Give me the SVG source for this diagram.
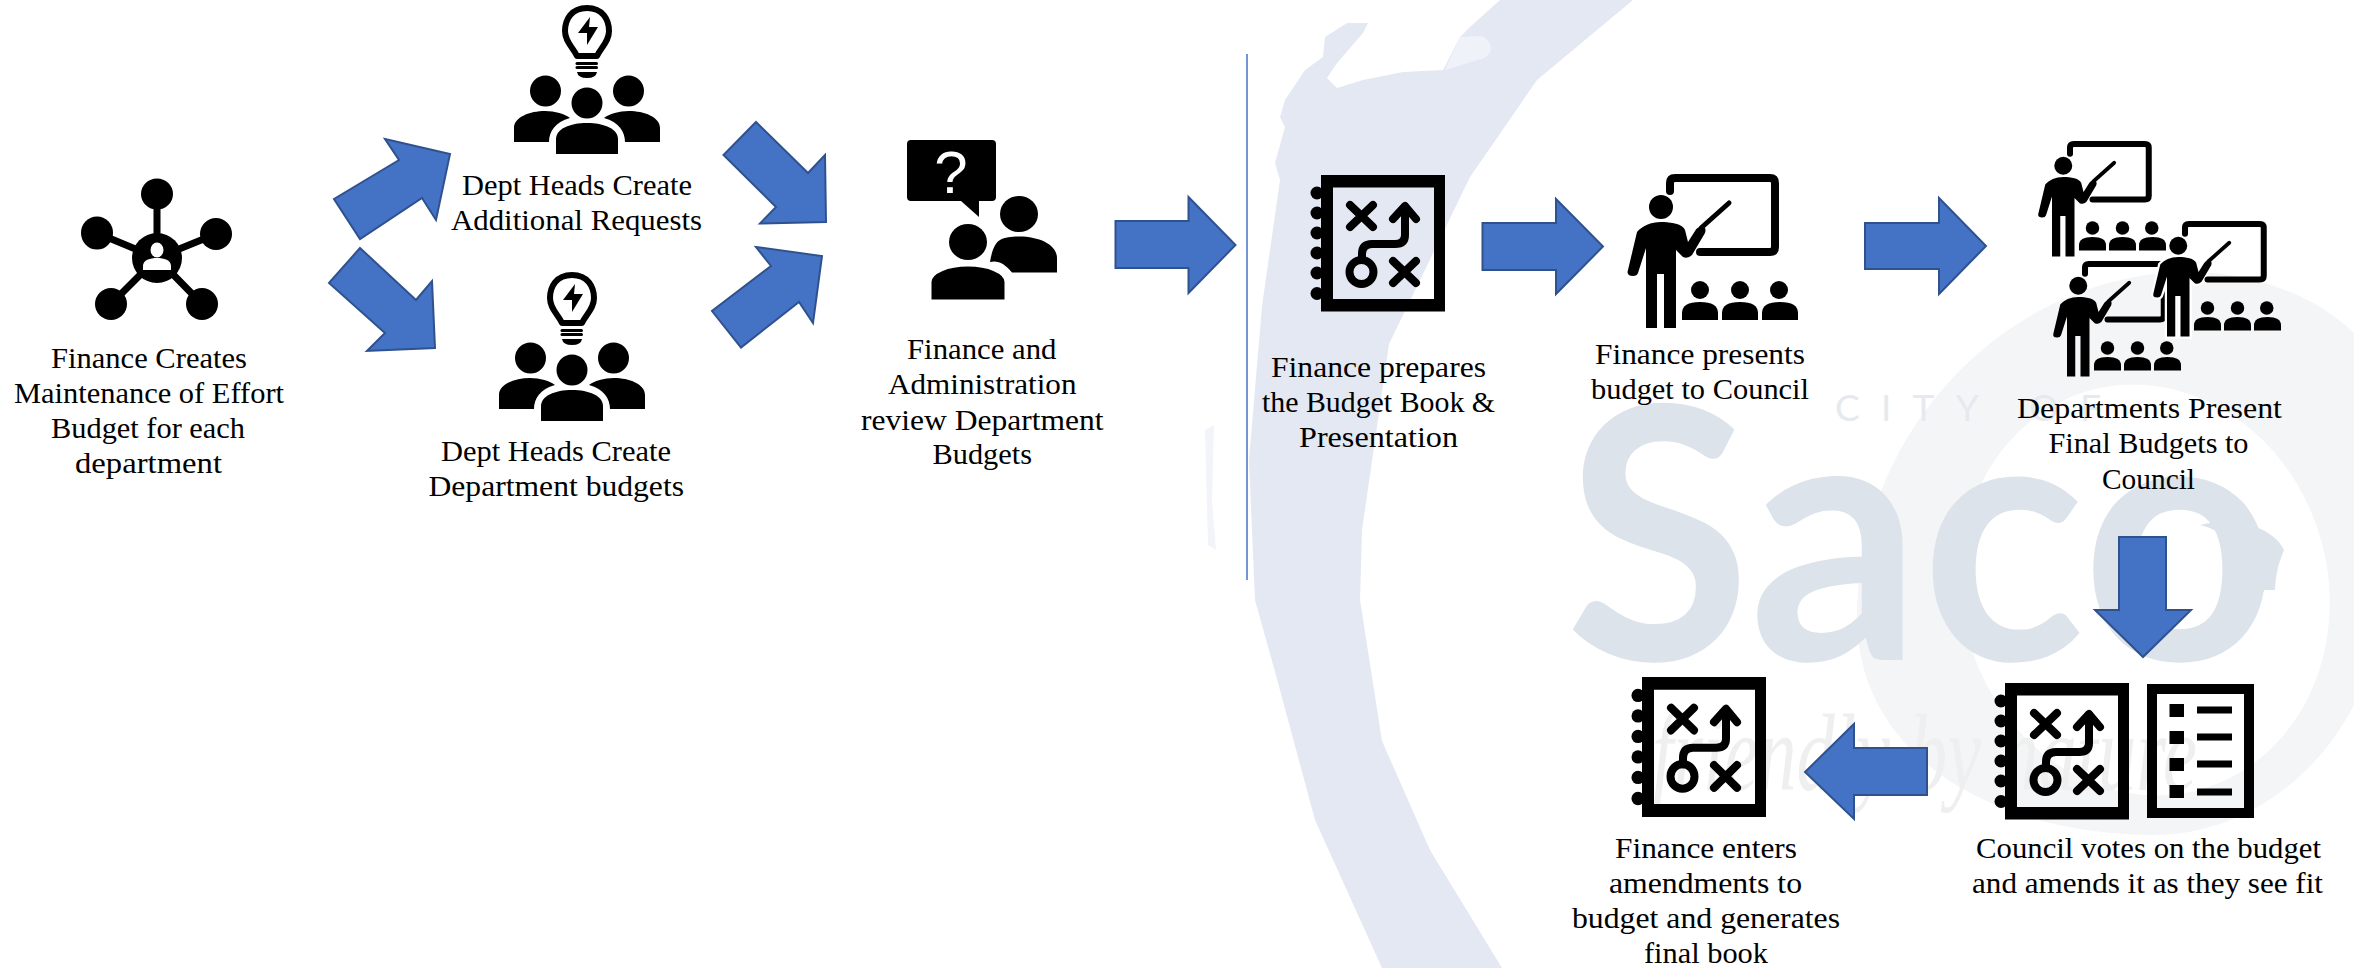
<svg xmlns="http://www.w3.org/2000/svg" width="2354" height="968" viewBox="0 0 2354 968">
<style>
.arrow{fill:#4472C4;stroke:#2F528F;stroke-width:2;stroke-linejoin:miter}
.lbl{font-family:"Liberation Serif",Cambria,serif;font-size:30px;fill:#000}
.ink{fill:#000}
.line{fill:none;stroke:#000;stroke-linecap:round;stroke-linejoin:round}
</style>
<defs>
<g id="team">
<path class="line" stroke-width="6" d="M587,8C571,8 565,20 565,31C565,42 573,47 577,56H597C601,47 609,42 609,31C609,20 603,8 587,8Z"/>
<path class="ink" d="M590,17L578,33H587V45L598,27H589Z"/>
<rect class="ink" x="575.500" y="62" width="22.500" height="3" rx="1.500"/>
<rect class="ink" x="575.500" y="66" width="22.500" height="3" rx="1.500"/>
<path class="ink" d="M577,72H597Q596,78 587,78Q578,78 577,72Z"/>
<ellipse class="ink" cx="545.500" cy="91" rx="15.500" ry="15.500"/>
<ellipse class="ink" cx="628.500" cy="91" rx="15.500" ry="15.500"/>
<ellipse class="ink" cx="587" cy="103" rx="15.500" ry="15.500"/>
<path class="ink" d="M514,142V128C514,117 530,111 545,111C555,111 565,114 570,118C555,122 549,132 549,142Z"/>
<path class="ink" d="M660,142V128C660,117 644,111 629,111C619,111 609,114 604,118C619,122 625,132 625,142Z"/>
<path class="ink" d="M556,154V139C556,129 570,123 587,123C604,123 618,129 618,139V154Z"/>
</g>
<g id="book">
<path class="ink" fill-rule="evenodd" d="M0,0H124V136.500H0ZM12,12.500V124H113V12.500Z"/>
<circle class="ink" cx="-4" cy="18" r="6.500"/><circle class="ink" cx="-4" cy="38" r="6.500"/><circle class="ink" cx="-4" cy="58" r="6.500"/><circle class="ink" cx="-4" cy="78" r="6.500"/><circle class="ink" cx="-4" cy="98" r="6.500"/><circle class="ink" cx="-4" cy="118.500" r="6.500"/>
<g class="line" stroke-width="8">
<path d="M29,30L52,52M52,30L29,52"/>
<path d="M72,86L95,108M95,86L72,108"/>
<path d="M84,32V60Q84,69 74,69H51Q41,69 41,79V85"/>
<path d="M72,44L84,31L95,44"/>
<ellipse cx="40.500" cy="97" rx="12" ry="12" fill="none"/>
</g>
</g>
<path id="pbody" d="M-5,48C-15,48 -24,52 -29,58L-38,96Q-40,102 -33,102Q-29,102 -28,99L-20,74V154H-9V100H-2V154H10V76L17,83Q22,85 26,81L39,59Q41,52 35,53Q31,53 29,57L22,68L19,56C17,50 5,48 -5,48Z"/>
<g id="presenter">
<path class="line" stroke-width="8" stroke-linecap="butt" d="M4,17V9Q4,4 9,4H104Q109,4 109,9V73Q109,78 104,78H34"/>
<circle class="ink" cx="-5" cy="33" r="12"/>
<use href="#pbody" fill="#000"/>
<path class="line" stroke-width="5" d="M35,54L63,29"/>
<circle class="ink" cx="34" cy="116" r="9"/><circle class="ink" cx="74" cy="116" r="9"/><circle class="ink" cx="113" cy="116" r="9"/>
<path class="ink" d="M16,146V139Q16,128 34,128Q52,128 52,139V146Z"/>
<path class="ink" d="M56,146V139Q56,128 74,128Q92,128 92,139V146Z"/>
<path class="ink" d="M96,146V139Q96,128 114,128Q132,128 132,139V146Z"/>
</g>
</defs>

<g id="watermark">
<rect width="2354" height="968" fill="#fff"/>
<path fill="#f4f5f6" d="M1857,617C1857,430 2010,272 2190,272C2260,272 2320,300 2354,333V705C2310,790 2230,835 2154,835C2000,835 1857,760 1857,617Z"/>
<ellipse cx="2145" cy="590" rx="183" ry="207" fill="#fff" transform="rotate(-15 2145 590)"/>
<path fill="#e3e8f2" d="M1500,0L1470,27L1460,37L1443,70L1403,72L1363,80L1337,88L1327,78L1337,63L1363,33L1368,23L1347,23L1325,37L1323,57L1305,70L1285,100L1280,117L1285,127L1275,163L1280,180L1262,306L1249,460L1255,600L1277,679L1315,820L1382,968H1502L1430,850L1382,741L1360,600L1362,530L1389,344L1470,177L1537,80L1633,0Z"/>
<path fill="#eff2f8" d="M1460,37L1482,36Q1492,42 1491,50Q1488,58 1478,60L1445,70Z"/>
<path fill="#f2f4f9" d="M1205,430L1214,425L1212,500L1216,550L1208,545Z"/>
<text x="1835" y="421" font-family="Lato,'Open Sans',sans-serif" font-size="37" fill="#e6e9ee" textLength="266">CITY OF</text>
<text x="1565" y="660" font-family="Lato,'Open Sans',sans-serif" font-weight="700" font-size="352" fill="#dde3ea" textLength="712" lengthAdjust="spacingAndGlyphs">Saco</text>
<path fill="#dde3ea" d="M2200,525C2240,515 2275,530 2284,550C2280,560 2276,570 2275,590L2248,590C2245,555 2225,530 2200,525Z"/>
<text x="1652" y="790" font-family="'Liberation Serif',serif" font-style="italic" font-size="110" fill="#efefef" textLength="545" lengthAdjust="spacingAndGlyphs">friendly by nature</text>
</g>

<g id="connectors">
<path class="arrow" d="M385,139L450,154L436,220L422,198L360,239L334,199L399,160Z"/>
<path class="arrow" d="M360,248L416,300L432,281L435,348L367,351L385,333L329,283Z"/>
<path class="arrow" d="M756,122L808,173L825,155L826,222L760,223.500L776,207L723.500,155Z"/>
<path class="arrow" d="M756,247L822,256L813,323L799,302L741,347.500L712,311L771,266Z"/>
<path class="arrow" d="M1115.500,221H1188.500V197L1235.500,245L1188.500,293V268H1115.500Z"/>
<path d="M1247,54V580" stroke="#4472C4" stroke-width="1.500" fill="none"/>
<path class="arrow" d="M1482.500,223H1556V199L1603,246.500L1556,294V270H1482.500Z"/>
<path class="arrow" d="M1865,223H1939V198L1986,246L1939,294V269H1865Z"/>
<path class="arrow" d="M2119,537H2166V610H2191L2143,657L2095,610H2119Z"/>
<path class="arrow" d="M1927,748H1854V724L1805,772L1854,819V795H1927Z"/>
</g>

<g id="node-moe">
<g class="line" stroke-width="7">
<path d="M157,194V258M97,233L157,258L216,234M111,304L157,258L202,304"/>
</g>
<ellipse class="ink" cx="157" cy="194" rx="16" ry="15.500"/>
<ellipse class="ink" cx="97" cy="233" rx="16" ry="16.500"/>
<ellipse class="ink" cx="216" cy="234" rx="16" ry="16"/>
<ellipse class="ink" cx="111" cy="304" rx="16" ry="16"/>
<ellipse class="ink" cx="202" cy="304" rx="16" ry="16"/>
<ellipse class="ink" cx="157" cy="258" rx="25" ry="25"/>
<ellipse cx="157" cy="250" rx="6.500" ry="7.500" fill="#fff"/>
<path d="M143,270V266C143,260 150,258 157,258C164,258 171,260 171,266V270Z" fill="#fff"/>
<text class="lbl" x="51" y="368" textLength="196" lengthAdjust="spacingAndGlyphs">Finance Creates</text>
<text class="lbl" x="14" y="403" textLength="270" lengthAdjust="spacingAndGlyphs">Maintenance of Effort</text>
<text class="lbl" x="51" y="438" textLength="194" lengthAdjust="spacingAndGlyphs">Budget for each</text>
<text class="lbl" x="75" y="473" textLength="147" lengthAdjust="spacingAndGlyphs">department</text>
</g>

<g id="node-additional">
<use href="#team"/>
<text class="lbl" x="462" y="195" textLength="230" lengthAdjust="spacingAndGlyphs">Dept Heads Create</text>
<text class="lbl" x="451" y="230" textLength="251" lengthAdjust="spacingAndGlyphs">Additional Requests</text>
</g>

<g id="node-department">
<use href="#team" transform="translate(-15,267)"/>
<text class="lbl" x="441" y="461" textLength="230" lengthAdjust="spacingAndGlyphs">Dept Heads Create</text>
<text class="lbl" x="428.500" y="496" textLength="255.500" lengthAdjust="spacingAndGlyphs">Department budgets</text>
</g>

<g id="node-review">
<path class="ink" d="M911,140H992Q996,140 996,144V197Q996,201 992,201H979V217L961,201H911Q907,201 907,197V144Q907,140 911,140Z"/>
<text x="951" y="193" text-anchor="middle" font-family="'Liberation Sans',sans-serif" font-size="60" fill="#fff">?</text>
<ellipse class="ink" cx="1019" cy="214" rx="19" ry="18"/>
<path class="ink" d="M990,262C992,250 995,243 1000,240C1005,237 1012,236.500 1019,236.500C1040,236.500 1057,245 1057,258V272.500H1012C1005,264 998,260 990,262Z"/>
<ellipse class="ink" cx="968" cy="242" rx="19" ry="18"/>
<path class="ink" stroke="#fff" stroke-width="3" d="M930,301V282C930,272 948,265 968,265C988,265 1006,272 1006,282V301Z"/>
<text class="lbl" x="907" y="359" textLength="149.500" lengthAdjust="spacingAndGlyphs">Finance and</text>
<text class="lbl" x="888" y="394" textLength="188.500" lengthAdjust="spacingAndGlyphs">Administration</text>
<text class="lbl" x="861" y="429.500" textLength="242.500" lengthAdjust="spacingAndGlyphs">review Department</text>
<text class="lbl" x="932.500" y="464" textLength="99.500" lengthAdjust="spacingAndGlyphs">Budgets</text>
</g>

<g id="node-prepare">
<use href="#book" transform="translate(1321,175)"/>
<text class="lbl" x="1271" y="377" textLength="215" lengthAdjust="spacingAndGlyphs">Finance prepares</text>
<text class="lbl" x="1262" y="412" textLength="233" lengthAdjust="spacingAndGlyphs">the Budget Book &amp;</text>
<text class="lbl" x="1299" y="447" textLength="159" lengthAdjust="spacingAndGlyphs">Presentation</text>
</g>

<g id="node-present">
<use href="#presenter" transform="translate(1666,174)"/>
<text class="lbl" x="1595" y="364" textLength="210" lengthAdjust="spacingAndGlyphs">Finance presents</text>
<text class="lbl" x="1591" y="399" textLength="218" lengthAdjust="spacingAndGlyphs">budget to Council</text>
</g>

<g id="node-departments">
<use href="#presenter" transform="translate(2067,141) scale(.75)"/>
<use href="#presenter" transform="translate(2082,261) scale(.75)"/>
<use href="#pbody" fill="#fff" stroke="#fff" stroke-width="6" transform="translate(2182,221) scale(.75)"/>
<use href="#presenter" transform="translate(2182,221) scale(.75)"/>
<text class="lbl" x="2017" y="418" textLength="265" lengthAdjust="spacingAndGlyphs">Departments Present</text>
<text class="lbl" x="2048.500" y="453" textLength="200" lengthAdjust="spacingAndGlyphs">Final Budgets to</text>
<text class="lbl" x="2102" y="489" textLength="93" lengthAdjust="spacingAndGlyphs">Council</text>
</g>

<g id="node-vote">
<use href="#book" transform="translate(2005,683)"/>
<path class="ink" fill-rule="evenodd" d="M2147,684H2254V818H2147ZM2157,694V808H2244V694Z"/>
<rect class="ink" x="2169.500" y="704" width="14.500" height="13"/><rect class="ink" x="2169.500" y="731" width="14.500" height="13"/><rect class="ink" x="2169.500" y="758" width="14.500" height="13"/><rect class="ink" x="2169.500" y="785" width="14.500" height="13"/>
<rect class="ink" x="2197" y="706.500" width="35" height="7"/><rect class="ink" x="2197" y="733.500" width="35" height="7"/><rect class="ink" x="2197" y="760.500" width="35" height="7"/><rect class="ink" x="2197" y="788.500" width="35" height="7"/>
<text class="lbl" x="1976" y="858" textLength="345" lengthAdjust="spacingAndGlyphs">Council votes on the budget</text>
<text class="lbl" x="1972" y="893" textLength="351" lengthAdjust="spacingAndGlyphs">and amends it as they see fit</text>
</g>

<g id="node-final">
<use href="#book" transform="translate(1642,677) scale(1,1.025)"/>
<text class="lbl" x="1615" y="858" textLength="182" lengthAdjust="spacingAndGlyphs">Finance enters</text>
<text class="lbl" x="1609" y="893" textLength="193" lengthAdjust="spacingAndGlyphs">amendments to</text>
<text class="lbl" x="1572" y="928" textLength="268" lengthAdjust="spacingAndGlyphs">budget and generates</text>
<text class="lbl" x="1644" y="963" textLength="124" lengthAdjust="spacingAndGlyphs">final book</text>
</g>
</svg>
